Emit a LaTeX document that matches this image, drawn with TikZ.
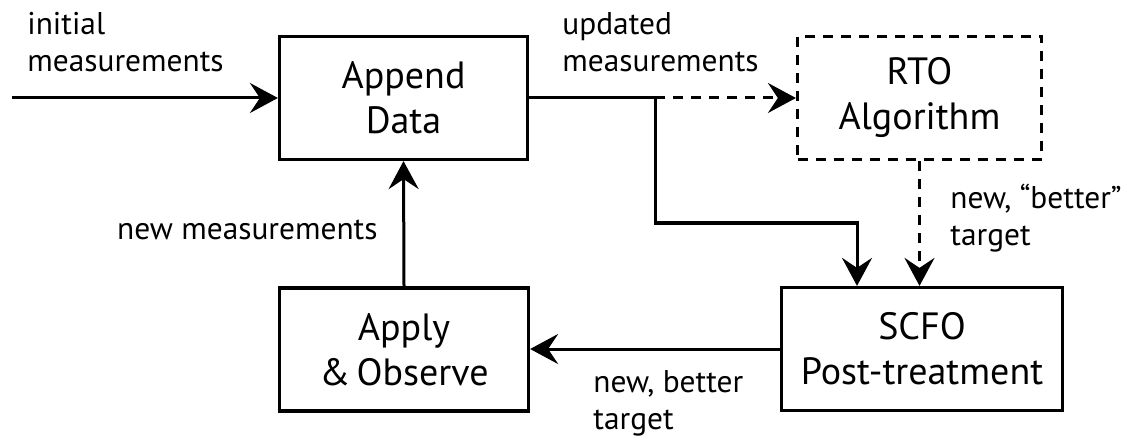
\documentclass[tikz,border=0pt]{standalone}
\usepackage{fontspec}
\setmainfont{PT Sans}
\usetikzlibrary{arrows.meta,calc}
\begin{document}
\begin{tikzpicture}[x=0.5pt,y=-0.5pt,
  box/.style={draw, line width=1.6pt, inner sep=0pt, align=center,
    minimum height=61.5pt, font=\fontsize{19}{22.5}\selectfont},
  dashbox/.style={box, dash pattern=on 5pt off 4pt},
  lbl/.style={inner sep=0pt, align=left, font=\fontsize{15.7}{18.5}\selectfont},
  link/.style={line width=1.5pt},
  arr/.style={link, -{Stealth[length=14pt, width=15pt, inset=5pt]}},
  dashlink/.style={dash pattern=on 5pt off 4pt}]
  \useasboundingbox (0,0) rectangle (1128,438);

  % process blocks
  \node[box, minimum width=124pt]   (append) at (403.5,98)  {Append\\Data};
  \node[dashbox, minimum width=122pt] (rto) at (919.5,98) {RTO\\Algorithm};
  \node[box, minimum width=124.5pt] (apply)  at (404,349.5) {Apply\\\&\,Observe};
  \node[box, minimum width=140.5pt] (scfo)   at (922,349)   {SCFO\\Post-treatment};

  % free ends and branch points
  \coordinate (src) at (12,98);
  \coordinate (split) at (655,98);
  \coordinate (step) at (655,223);
  \coordinate (scfoin) at ($(scfo.north)+(-65,0)$);

  % connectors
  \draw[arr] (src) -- (append.west);
  \draw[link] (append.east) -- (split);
  \draw[arr, dashlink] (split) -- (rto.west);
  \draw[arr] (split) -- (step) -| (scfoin);
  \draw[arr, dashlink] (rto.south) -- (rto.south |- scfo.north);
  \draw[arr] (scfo.west) -- (scfo.west -| apply.east);
  \draw[arr] (apply.north) -- (append.south);

  % labels (anchored at the baseline of their last line)
  \node[lbl, anchor=base west] (l1) at (27,72) {initial\\measurements};
  \node[lbl, anchor=base west] (l2) at (562,72) {updated\\measurements};
  \node[lbl, anchor=base west] (l3) at (950,245) {new, “better”\\target};
  \node[lbl, anchor=base east] (l4) at (378,239) {new measurements};
  \node[lbl, anchor=base west] (l5) at (593,429) {new, better\\target};
\end{tikzpicture}
\end{document}
